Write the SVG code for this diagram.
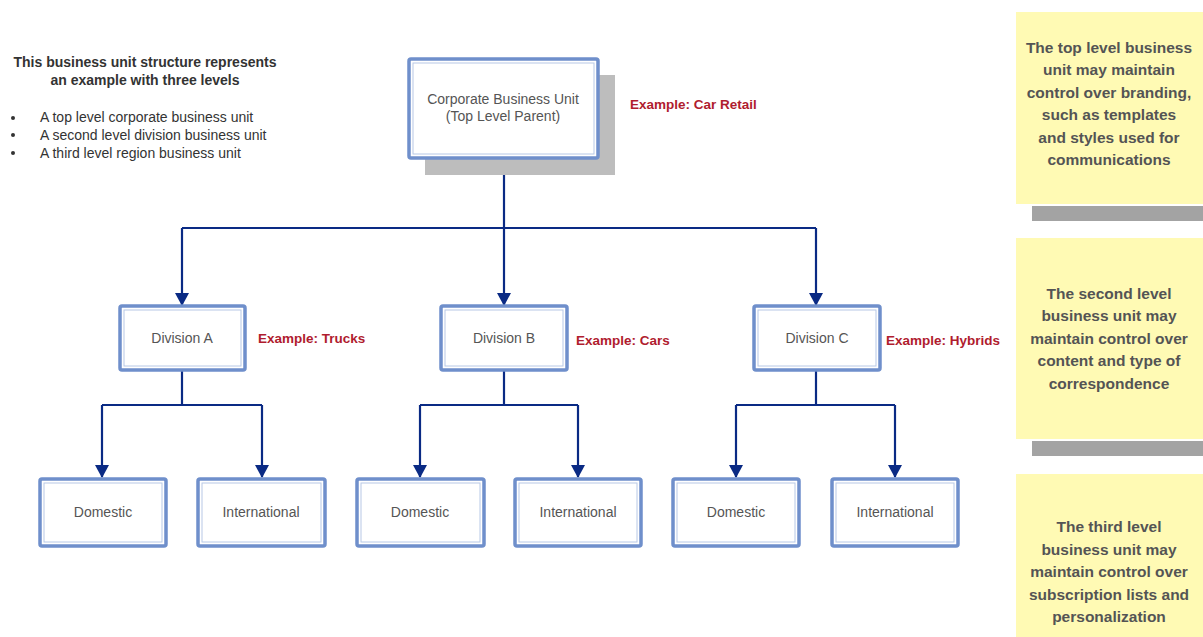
<svg xmlns="http://www.w3.org/2000/svg" width="1203" height="637" viewBox="0 0 1203 637">
<defs>
<marker id="arr" markerWidth="14" markerHeight="14" refX="12" refY="7" orient="auto" markerUnits="userSpaceOnUse" viewBox="0 0 14 14">
<path d="M0,0 L13,7 L0,14 Z" fill="#0a2a84"/>
</marker>
<style>
.box{fill:#ffffff;stroke:#6f8fcb;stroke-width:3.5}
.inner{fill:none;stroke:#b7c8e6;stroke-width:1}
.lbl{font-family:"Liberation Sans",Arial,sans-serif;font-size:14px;fill:#555555;text-anchor:middle}
.ex{font-family:"Liberation Sans",Arial,sans-serif;font-size:13.5px;font-weight:bold;fill:#b01c2e}
.note{fill:#fffab4}
.nshadow{fill:#a3a3a3}
.ntext{font-family:"Liberation Sans",Arial,sans-serif;font-size:15.5px;font-weight:bold;fill:#545454;text-anchor:middle}
.conn{fill:none;stroke:#0a2a84;stroke-width:2.2}
.side{font-family:"Liberation Sans",Arial,sans-serif;font-size:14px;fill:#333333}
</style>
</defs>
<rect width="1203" height="637" fill="#ffffff"/>

<g id="intro">
<text class="side" font-weight="bold" text-anchor="middle" fill="#222"><tspan x="145" y="67">This business unit structure represents</tspan><tspan x="145" y="85">an example with three levels</tspan></text>
<circle cx="13" cy="118" r="2" fill="#333"/>
<circle cx="13" cy="135" r="2" fill="#333"/>
<circle cx="13" cy="153" r="2" fill="#333"/>
<text class="side" fill="#666"><tspan x="40" y="122">A top level corporate business unit</tspan><tspan x="40" y="140">A second level division business unit</tspan><tspan x="40" y="158">A third level region business unit</tspan></text>
</g>

<g id="connectors">
<path class="conn" d="M504,158 V228"/>
<path class="conn" d="M182,228 H816"/>
<path class="conn" d="M182,228 V305" marker-end="url(#arr)"/>
<path class="conn" d="M504,228 V305" marker-end="url(#arr)"/>
<path class="conn" d="M816,228 V305" marker-end="url(#arr)"/>
<path class="conn" d="M182,370 V405 M102,405 H262"/>
<path class="conn" d="M102,405 V477" marker-end="url(#arr)"/>
<path class="conn" d="M262,405 V477" marker-end="url(#arr)"/>
<path class="conn" d="M504,370 V405 M420,405 H578"/>
<path class="conn" d="M420,405 V477" marker-end="url(#arr)"/>
<path class="conn" d="M578,405 V477" marker-end="url(#arr)"/>
<path class="conn" d="M816,370 V405 M736,405 H895"/>
<path class="conn" d="M736,405 V477" marker-end="url(#arr)"/>
<path class="conn" d="M895,405 V477" marker-end="url(#arr)"/>
</g>

<g id="corporate">
<rect x="425" y="75" width="190" height="100" fill="#bdbdbd"/>
<rect class="box" x="409" y="59" width="189" height="99" rx="2"/>
<rect class="inner" x="413" y="63" width="181" height="91"/>
<text class="lbl"><tspan x="503" y="104">Corporate Business Unit</tspan><tspan x="503" y="121">(Top Level Parent)</tspan></text>
</g>
<g id="ex-car-retail"><text class="ex" x="630" y="109">Example: Car Retail</text></g>

<g id="divA">
<rect class="box" x="120" y="306" width="125" height="64" rx="2"/>
<rect class="inner" x="124" y="310" width="117" height="56"/>
<text class="lbl" x="182" y="343">Division A</text>
</g>
<g id="ex-trucks"><text class="ex" x="258" y="343">Example: Trucks</text></g>

<g id="divB">
<rect class="box" x="441" y="306" width="126" height="64" rx="2"/>
<rect class="inner" x="445" y="310" width="118" height="56"/>
<text class="lbl" x="504" y="343">Division B</text>
</g>
<g id="ex-cars"><text class="ex" x="576" y="345">Example: Cars</text></g>

<g id="divC">
<rect class="box" x="754" y="306" width="126" height="64" rx="2"/>
<rect class="inner" x="758" y="310" width="118" height="56"/>
<text class="lbl" x="817" y="343">Division C</text>
</g>
<g id="ex-hybrids"><text class="ex" x="886" y="345">Example: Hybrids</text></g>

<g id="domA">
<rect class="box" x="40" y="479" width="126" height="67" rx="2"/>
<rect class="inner" x="44" y="483" width="118" height="59"/>
<text class="lbl" x="103" y="517">Domestic</text>
</g>
<g id="intA">
<rect class="box" x="198" y="479" width="127" height="67" rx="2"/>
<rect class="inner" x="202" y="483" width="119" height="59"/>
<text class="lbl" x="261" y="517">International</text>
</g>
<g id="domB">
<rect class="box" x="357" y="479" width="127" height="67" rx="2"/>
<rect class="inner" x="361" y="483" width="119" height="59"/>
<text class="lbl" x="420" y="517">Domestic</text>
</g>
<g id="intB">
<rect class="box" x="515" y="479" width="126" height="67" rx="2"/>
<rect class="inner" x="519" y="483" width="118" height="59"/>
<text class="lbl" x="578" y="517">International</text>
</g>
<g id="domC">
<rect class="box" x="673" y="479" width="126" height="67" rx="2"/>
<rect class="inner" x="677" y="483" width="118" height="59"/>
<text class="lbl" x="736" y="517">Domestic</text>
</g>
<g id="intC">
<rect class="box" x="832" y="479" width="126" height="67" rx="2"/>
<rect class="inner" x="836" y="483" width="118" height="59"/>
<text class="lbl" x="895" y="517">International</text>
</g>

<g id="note1">
<rect class="nshadow" x="1032" y="206" width="171" height="15"/>
<rect class="note" x="1016" y="12" width="187" height="192"/>
<text class="ntext"><tspan x="1109" y="53">The top level business</tspan><tspan x="1109" y="75">unit may maintain</tspan><tspan x="1109" y="98">control over branding,</tspan><tspan x="1109" y="120">such as templates</tspan><tspan x="1109" y="143">and styles used for</tspan><tspan x="1109" y="165">communications</tspan></text>
</g>
<g id="note2">
<rect class="nshadow" x="1032" y="441" width="171" height="15"/>
<rect class="note" x="1016" y="238" width="187" height="201"/>
<text class="ntext"><tspan x="1109" y="299">The second level</tspan><tspan x="1109" y="321">business unit may</tspan><tspan x="1109" y="344">maintain control over</tspan><tspan x="1109" y="366">content and type of</tspan><tspan x="1109" y="389">correspondence</tspan></text>
</g>
<g id="note3">
<rect class="note" x="1016" y="474" width="187" height="163"/>
<text class="ntext"><tspan x="1109" y="532">The third level</tspan><tspan x="1109" y="555">business unit may</tspan><tspan x="1109" y="577">maintain control over</tspan><tspan x="1109" y="600">subscription lists and</tspan><tspan x="1109" y="622">personalization</tspan></text>
</g>
</svg>
